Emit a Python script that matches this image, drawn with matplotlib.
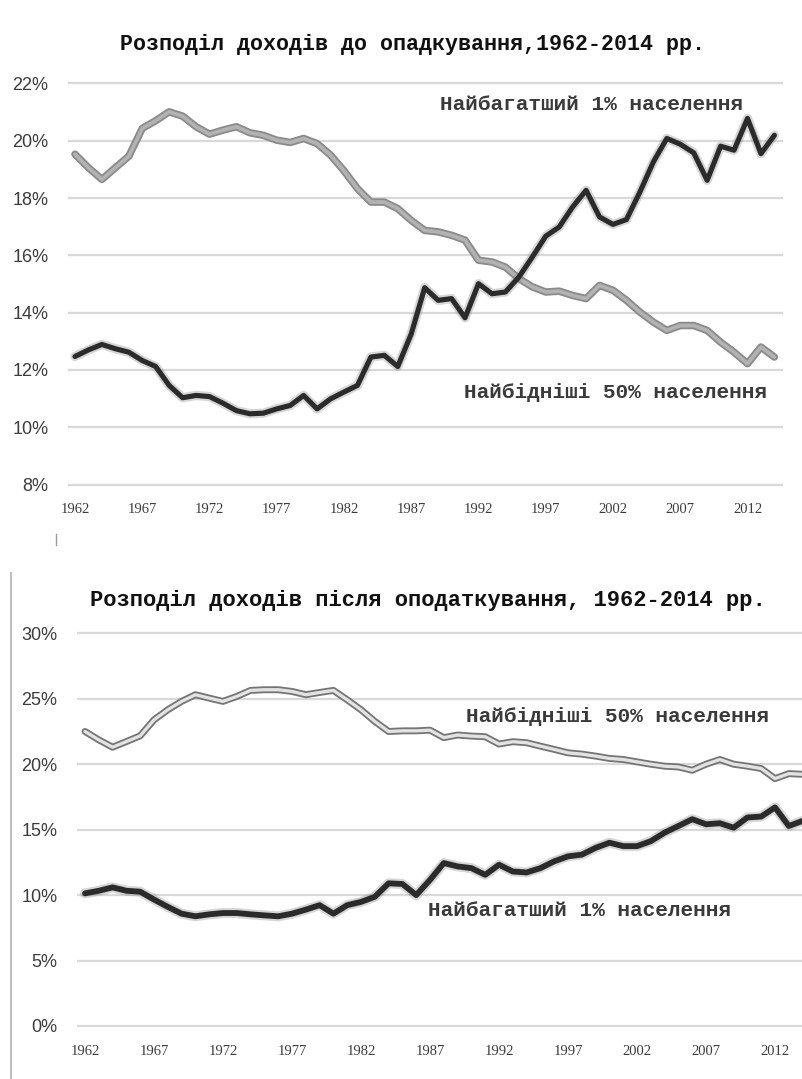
import matplotlib
matplotlib.use("Agg")
import matplotlib.pyplot as plt
from matplotlib.lines import Line2D

# ---------------- data ----------------
years = list(range(1962, 2015))

pre_tax_top1 = [12.47, 12.70, 12.89, 12.74, 12.62, 12.33, 12.12, 11.46, 11.03, 11.11,
                11.07, 10.84, 10.58, 10.47, 10.49, 10.64, 10.76, 11.11, 10.64, 10.99,
                11.23, 11.46, 12.45, 12.51, 12.12, 13.26, 14.87, 14.43, 14.49, 13.82,
                15.01, 14.66, 14.72, 15.24, 15.94, 16.67, 16.99, 17.69, 18.27, 17.34,
                17.08, 17.25, 18.21, 19.26, 20.08, 19.88, 19.58, 18.62, 19.81, 19.67,
                20.78, 19.55, 20.19]

pre_tax_bottom50 = [19.53, 19.06, 18.65, 19.06, 19.46, 20.43, 20.70, 21.01, 20.86, 20.49,
                    20.23, 20.37, 20.49, 20.28, 20.19, 20.02, 19.94, 20.08, 19.90, 19.50,
                    18.95, 18.33, 17.86, 17.86, 17.63, 17.22, 16.87, 16.82, 16.70, 16.53,
                    15.83, 15.77, 15.59, 15.19, 14.90, 14.72, 14.75, 14.60, 14.49, 14.95,
                    14.78, 14.43, 14.02, 13.67, 13.38, 13.55, 13.55, 13.38, 12.97, 12.62,
                    12.22, 12.80, 12.45]

post_tax_bottom50 = [22.50, 21.86, 21.30, 21.73, 22.17, 23.39, 24.16, 24.80, 25.31, 25.05,
                     24.80, 25.18, 25.64, 25.69, 25.69, 25.56, 25.31, 25.48, 25.64, 24.92,
                     24.16, 23.27, 22.50, 22.55, 22.55, 22.60, 22.03, 22.23, 22.15, 22.10,
                     21.54, 21.72, 21.64, 21.38, 21.13, 20.87, 20.77, 20.62, 20.44, 20.36,
                     20.18, 20.00, 19.85, 19.79, 19.54, 20.00, 20.36, 20.00, 19.85, 19.67,
                     18.90, 19.28, 19.23]

post_tax_top1 = [10.13, 10.33, 10.59, 10.33, 10.26, 9.66, 9.10, 8.58, 8.38, 8.53,
                 8.63, 8.63, 8.53, 8.45, 8.38, 8.58, 8.89, 9.23, 8.58, 9.23,
                 9.48, 9.87, 10.90, 10.85, 10.00, 11.16, 12.45, 12.19, 12.06, 11.55,
                 12.32, 11.80, 11.73, 12.06, 12.58, 12.96, 13.09, 13.61, 14.00, 13.74,
                 13.74, 14.12, 14.77, 15.28, 15.80, 15.41, 15.49, 15.15, 15.93, 16.00,
                 16.70, 15.28, 15.67]

x_ticks = [1962, 1967, 1972, 1977, 1982, 1987, 1992, 1997, 2002, 2007, 2012]
top_yticks = [8, 10, 12, 14, 16, 18, 20, 22]
bottom_yticks = [0, 5, 10, 15, 20, 25, 30]

title_top = "Розподіл доходів до опадкування,1962-2014 рр."
title_bottom = "Розподіл доходів після оподаткування, 1962-2014 рр."
label_rich = "Найбагатший 1% населення"
label_poor = "Найбідніші 50% населення"

# ---------------- figure ----------------
W, H = 802, 1079
fig = plt.figure(figsize=(W / 100, H / 100), dpi=100)
fig.patch.set_facecolor("white")


def px_rect(left, top, right, bottom):
    return [left / W, 1 - bottom / H, (right - left) / W, (bottom - top) / H]


def style_axis(ax, yticks, xlim, ylim):
    ax.set_xlim(*xlim)
    ax.set_ylim(*ylim)
    for s in ax.spines.values():
        s.set_visible(False)
    ax.set_yticks(yticks)
    ax.set_yticklabels([f"{v}%" for v in yticks], fontfamily="Liberation Sans",
                       fontsize=13, color="#3c3c3c")
    ax.set_xticks(x_ticks)
    ax.set_xticklabels([str(v) for v in x_ticks], fontfamily="Liberation Serif",
                       fontsize=10.5, color="#3c3c3c")
    ax.tick_params(axis="both", length=0)
    ax.tick_params(axis="y", pad=14)
    ax.tick_params(axis="x", pad=11)
    ax.grid(axis="y", color="#d9d9d9", linewidth=1.6)
    ax.grid(axis="x", visible=False)
    ax.set_axisbelow(True)


def black_line(ax, x, y, w):
    ax.plot(x, y, color="#8a8a8a", alpha=0.35, linewidth=w + 3,
            solid_joinstyle="round", solid_capstyle="round")
    ax.plot(x, y, color="#2b2b2b", linewidth=w,
            solid_joinstyle="round", solid_capstyle="round")


def gray_line(ax, x, y, outer, inner, w_out, w_in):
    ax.plot(x, y, color=outer, linewidth=w_out,
            solid_joinstyle="round", solid_capstyle="round")
    ax.plot(x, y, color=inner, linewidth=w_in,
            solid_joinstyle="round", solid_capstyle="round")


# ---- top panel ----
ax1 = fig.add_axes(px_rect(68, 80.6, 782.6, 487.4))
style_axis(ax1, top_yticks, (1961.48, 2014.61), (7.9, 22.1))
gray_line(ax1, years, pre_tax_bottom50, "#8a8a8a", "#b2b2b2", 5.4, 2.8)
black_line(ax1, years, pre_tax_top1, 3.7)

# ---- bottom panel ----
ax2 = fig.add_axes(px_rect(77, 629.4, 810.9, 1029.9))
style_axis(ax2, bottom_yticks, (1961.42, 2014.6), (-0.3, 30.3))
gray_line(ax2, years, post_tax_bottom50, "#747474", "#e2e2e2", 5.0, 2.4)
black_line(ax2, years, post_tax_top1, 4.2)

# ---- titles and labels ----
def ftext(xp, yp, s, size, color="#111111", weight="bold"):
    fig.text(xp / W, 1 - yp / H, s, ha="center", va="center",
             fontfamily="Liberation Mono", fontsize=size, fontweight=weight,
             color=color)


ftext(412, 44, title_top, 15.6)
ftext(428, 600, title_bottom, 15.9)
ftext(591, 105, label_rich, 15.2, color="#3a3a3a")
ftext(615, 393, label_poor, 15.2, color="#3a3a3a")
ftext(618, 717, label_poor, 15.2, color="#3a3a3a")
ftext(580, 910, label_rich, 15.2, color="#3a3a3a")

# thin vertical edge line at the left of the lower chart and a small mark
fig.add_artist(Line2D([11 / W, 11 / W], [1 - 573 / H, 0], transform=fig.transFigure,
                      color="#bdbdbd", linewidth=1.4))
fig.add_artist(Line2D([56 / W, 56 / W], [1 - 534 / H, 1 - 545 / H],
                      transform=fig.transFigure, color="#9a9a9a", linewidth=1.0))

fig.savefig("out.png", dpi=100, facecolor="white")
